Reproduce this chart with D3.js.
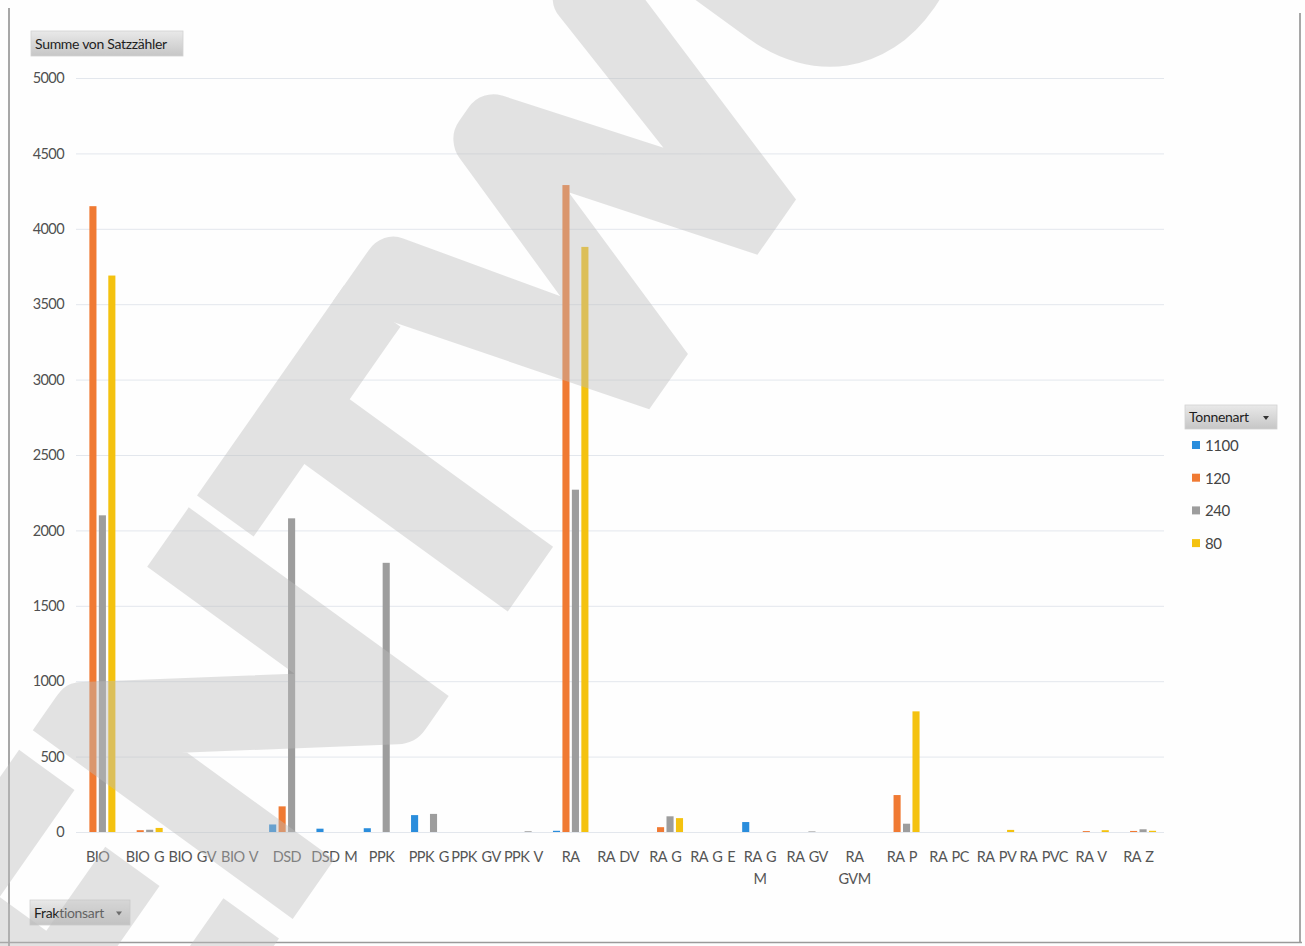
<!DOCTYPE html>
<html>
<head>
<meta charset="utf-8">
<script src="https://cdn.jsdelivr.net/npm/d3@7"></script>
<style>
  html, body { margin: 0; padding: 0; background: #ffffff; }
  svg { display: block; }
  text { font-family: Lato, "Open Sans", "DejaVu Sans", sans-serif; }
</style>
</head>
<body>
<svg id="chart" width="1305" height="946"></svg>
<script>
// Fraktionsart categories (x axis)
const categories = ["BIO","BIO G","BIO GV","BIO V","DSD","DSD M","PPK","PPK G","PPK GV","PPK V",
  "RA","RA DV","RA G","RA G E","RA G M","RA GV","RA GVM","RA P","RA PC","RA PV","RA PVC","RA V","RA Z"];
// Tick labels as printed (some wrap onto two lines)
const categoryLabels = ["BIO","BIO G","BIO GV","BIO V","DSD","DSD M","PPK","PPK G","PPK GV","PPK V",
  "RA","RA DV","RA G","RA G E","RA G\nM","RA GV","RA\nGVM","RA P","RA PC","RA PV","RA PVC","RA V","RA Z"];

// Tonnenart series
const seriesNames = ["1100", "120", "240", "80"];
const seriesColors = ["#2a8ddc", "#f07a33", "#9d9d9d", "#f4c20f"];

// Summe von Satzzähler per series, in category order
const values1100 = [0, 0, 0, 0, 50, 22, 25, 112, 0, 0, 8, 0, 0, 0, 66, 0, 0, 0, 0, 0, 0, 0, 0];
const values120  = [4150, 12, 0, 0, 170, 0, 0, 0, 0, 0, 4290, 0, 32, 0, 0, 0, 0, 245, 0, 0, 0, 6, 7];
const values240  = [2100, 15, 0, 0, 2080, 0, 1785, 120, 0, 5, 2270, 0, 104, 0, 0, 4, 0, 55, 0, 0, 0, 0, 18];
const values80   = [3690, 27, 0, 0, 0, 0, 0, 0, 0, 0, 3880, 0, 92, 0, 0, 0, 0, 800, 0, 14, 0, 12, 8];

const yTicks = [0, 500, 1000, 1500, 2000, 2500, 3000, 3500, 4000, 4500, 5000];

const seriesValues = [values1100, values120, values240, values80];
const rows = categories.map((c, i) => ({
  cat: c,
  vals: seriesNames.map((s, k) => ({ key: s, value: seriesValues[k][i], color: seriesColors[k] }))
}));

const svg = d3.select("#chart");

// plot geometry
const plotLeft = 74, plotRight = 1162, plotTop = 78, plotBottom = 832;

const x = d3.scaleBand().domain(categories).range([plotLeft, plotRight]).paddingInner(0.2).paddingOuter(0.1);
const xs = d3.scaleBand().domain(seriesNames).range([0, x.bandwidth()]).paddingInner(0.25).paddingOuter(0.125);
const y = d3.scaleLinear().domain([0, 5000]).range([plotBottom, plotTop]);

// page frame
svg.append("rect").attr("x", 0).attr("y", 0).attr("width", 1305).attr("height", 946).attr("fill", "#fefefe");
svg.append("line").attr("x1", 9).attr("x2", 9).attr("y1", 8).attr("y2", 946).attr("stroke", "#8a8a8a").attr("stroke-width", 1.5);
svg.append("line").attr("x1", 1300).attr("x2", 1300).attr("y1", 13).attr("y2", 942).attr("stroke", "#8a8a8a").attr("stroke-width", 1.5);
svg.append("line").attr("x1", 0).attr("x2", 1302).attr("y1", 942.5).attr("y2", 942.5).attr("stroke", "#9a9a9a").attr("stroke-width", 1.5);

// y axis with gridlines
const yAxis = d3.axisLeft(y).tickValues(yTicks).tickFormat(d3.format("d"))
  .tickSizeInner(-(1164 - 76)).tickSizeOuter(0).tickPadding(12);
const gy = svg.append("g").attr("transform", "translate(76,0)").call(yAxis);
gy.select(".domain").remove();
gy.selectAll(".tick line").attr("stroke", "#e3e7ed").attr("stroke-width", 1);
gy.selectAll(".tick text").attr("fill", "#505050").attr("font-size", 14.5)
  .attr("letter-spacing", -0.6).attr("font-family", "Lato, sans-serif");

// x axis labels
const xAxis = d3.axisBottom(x).tickSize(0).tickPadding(0).tickFormat(() => "");
const gx = svg.append("g").attr("transform", `translate(0,${plotBottom})`).call(xAxis);
gx.select(".domain").remove();
gx.selectAll(".tick text").each(function(d, i) {
  const t = d3.select(this).attr("fill", "#555").attr("font-size", 14.5)
    .attr("letter-spacing", -0.5).attr("word-spacing", 1.5).attr("dy", null).attr("y", 0);
  const lines = categoryLabels[i].split("\n");
  lines.forEach((ln, j) => {
    t.append("tspan").attr("x", 0).attr("y", 30 + j * 22).text(ln);
  });
});

// bars
const groups = svg.append("g").selectAll("g").data(rows).join("g")
  .attr("transform", d => `translate(${x(d.cat)},0)`);
groups.selectAll("rect").data(d => d.vals.filter(v => v.value > 0)).join("rect")
  .attr("x", v => xs(v.key))
  .attr("width", xs.bandwidth())
  .attr("y", v => y(v.value))
  .attr("height", v => plotBottom - y(v.value))
  .attr("fill", v => v.color);

// field buttons
function fieldButton(bx, by, w, h, label, arrow) {
  const defsId = "grad" + Math.round(bx) + "_" + Math.round(by);
  const grad = svg.append("defs").append("linearGradient").attr("id", defsId)
    .attr("x1", 0).attr("y1", 0).attr("x2", 0).attr("y2", 1);
  grad.append("stop").attr("offset", "0%").attr("stop-color", "#e9e9e9");
  grad.append("stop").attr("offset", "100%").attr("stop-color", "#c6c6c6");
  svg.append("rect").attr("x", bx).attr("y", by).attr("width", w).attr("height", h)
    .attr("fill", `url(#${defsId})`).attr("stroke", "#d2d2d2").attr("stroke-width", 0.8);
  svg.append("text").attr("x", bx + 4).attr("y", by + h / 2 + 5).attr("font-size", 14)
    .attr("fill", "#1e1e1e").attr("letter-spacing", -0.3).text(label);
  if (arrow) {
    const ax = bx + w - 11, ay = by + h / 2 + 1;
    svg.append("path").attr("d", `M${ax - 3},${ay - 2}L${ax + 3},${ay - 2}L${ax},${ay + 2}Z`).attr("fill", "#333");
  }
}
fieldButton(31, 31, 152, 25, "Summe von Satzzähler", false);
fieldButton(30, 900, 100, 25, "Fraktionsart", true);
fieldButton(1185, 405, 92, 24, "Tonnenart", true);

// legend
const legend = svg.append("g").attr("transform", "translate(1192,441)");
const li = legend.selectAll("g").data(seriesNames).join("g")
  .attr("transform", (d, i) => `translate(0,${i * 32.7})`);
li.append("rect").attr("width", 8).attr("height", 8).attr("fill", (d, i) => seriesColors[i]);
li.append("text").attr("x", 13).attr("y", 10).attr("font-size", 15).attr("fill", "#444")
  .attr("letter-spacing", -0.4).text(d => d);

// diagonal draft stamp over the page
const stamp = svg.append("g").attr("opacity", 0.42).attr("pointer-events", "none");
stamp.append("text")
  .attr("transform", "matrix(2.33,-3.33,3.32,2.41,137,1120)")
  .attr("font-family", "'Liberation Sans', Arial, sans-serif")
  .attr("font-weight", "bold")
  .attr("font-size", 100)
  .attr("fill", "#bdbdbd")
  .attr("stroke", "#bdbdbd")
  .attr("stroke-width", 6)
  .attr("stroke-linejoin", "miter")
  .text("ENTWURF");
</script>
</body>
</html>
